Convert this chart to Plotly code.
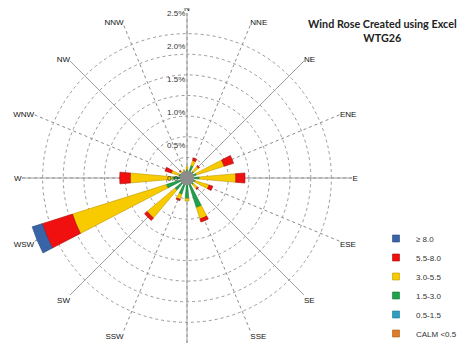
import plotly.graph_objects as go

# ---- data (percent frequency per direction, incremental per speed bin) ----
directions = ["N", "NNE", "NE", "ENE", "E", "ESE", "SE", "SSE",
              "S", "SSW", "SW", "WSW", "W", "WNW", "NW", "NNW"]
bin_labels = ["CALM <0.5", "0.5-1.5", "1.5-3.0", "3.0-5.5", "5.5-8.0", "\u2265 8.0"]
calm   = [0.02, 0.02, 0.02, 0.02, 0.03, 0.02, 0.02, 0.02, 0.02, 0.02, 0.02, 0.03, 0.03, 0.02, 0.02, 0.02]
s05_15 = [0.03, 0.03, 0.03, 0.03, 0.04, 0.03, 0.03, 0.05, 0.04, 0.04, 0.04, 0.05, 0.04, 0.03, 0.03, 0.03]
s15_30 = [0.08, 0.15, 0.08, 0.10, 0.12, 0.08, 0.08, 0.40, 0.25, 0.20, 0.18, 0.25, 0.15, 0.08, 0.06, 0.06]
s30_55 = [0.04, 0.08, 0.10, 0.44, 0.55, 0.22, 0.08, 0.18, 0.04, 0.08, 0.55, 1.49, 0.64, 0.12, 0.03, 0.02]
s55_80 = [0.00, 0.04, 0.02, 0.15, 0.14, 0.06, 0.02, 0.05, 0.00, 0.02, 0.05, 0.48, 0.16, 0.10, 0.01, 0.00]
s_ge80 = [0.00, 0.00, 0.00, 0.00, 0.00, 0.00, 0.00, 0.00, 0.00, 0.00, 0.00, 0.16, 0.00, 0.00, 0.00, 0.00]
series = [calm, s05_15, s15_30, s30_55, s55_80, s_ge80]
colors = ["#E07B28", "#2E9FC0", "#1FA34A", "#F8CB00", "#F01010", "#3A64A8"]
edges  = ["#A85A18", "#1F7490", "#147535", "#C09A00", "#A80C0C", "#26467A"]
radial_ticks = [0.0, 0.5, 1.0, 1.5, 2.0, 2.5]
r_max = 2.5
calm_disc = 0.11

step = 360 / len(directions)
theta = [i * step for i in range(len(directions))]

fig = go.Figure()
# invisible trace so the grid/label layer (polar) is drawn
fig.add_trace(go.Scatterpolar(r=[0], theta=[0], mode="markers",
                              marker=dict(size=0.1, opacity=0),
                              showlegend=False, subplot="polar", hoverinfo="skip"))
for vals, name, c, ec in zip(series, bin_labels, colors, edges):
    fig.add_trace(go.Barpolar(
        r=vals, theta=theta, name=name, width=10, legendgroup=name, showlegend=False,
        marker=dict(color=c, line=dict(color=ec, width=0.6)),
        subplot="polar2", hoverinfo="skip"))
# central grey disc on its own overlay
fig.add_trace(go.Barpolar(r=[calm_disc], theta=[0], width=360,
                          marker=dict(color="#8C8C8C", line=dict(width=0)),
                          showlegend=False, subplot="polar3", hoverinfo="skip"))
# small square legend keys
for name, c, ec in zip(bin_labels, colors, edges):
    fig.add_trace(go.Scatterpolar(
        r=[None], theta=[None], mode="markers", name=name, legendgroup=name,
        marker=dict(symbol="square", size=7, color=c, line=dict(color=ec, width=0.6)),
        subplot="polar3", hoverinfo="skip"))

W, H = 469, 347
OFF = 8  # default page body margin offsets the figure
cx, cy, R = 187 - OFF, 178 - OFF, 165
dom_x = [(cx - R) / W, (cx + R) / W]
dom_y = [1 - (cy + R) / H, 1 - (cy - R) / H]

grid_vals = [r_max * k / 8 for k in range(1, 9)]
hidden_radial = dict(range=[0, r_max], visible=False)
hidden_angular = dict(direction="clockwise", rotation=90, visible=False)

fig.update_layout(
    width=W, height=H,
    margin=dict(l=0, r=0, t=0, b=0, pad=0, autoexpand=False),
    paper_bgcolor="white",
    font=dict(family="Liberation Sans", size=8, color="#222"),
    showlegend=True,
    legend=dict(x=(376 - OFF) / W, y=1 - (224 - OFF) / H, xanchor="left", yanchor="top",
                traceorder="reversed", font=dict(size=8, color="#333"),
                bgcolor="rgba(0,0,0,0)"),
    polar=dict(
        domain=dict(x=dom_x, y=dom_y),
        bgcolor="white",
        radialaxis=dict(range=[0, r_max], tickvals=grid_vals, showticklabels=False,
                        showgrid=True, gridcolor="#9A9A9A", griddash="dot", gridwidth=1,
                        showline=False, ticks=""),
        angularaxis=dict(direction="clockwise", rotation=90,
                         tickvals=theta, ticktext=directions,
                         showgrid=True, gridcolor="#8A8A8A", griddash="dot", gridwidth=1,
                         showline=False, ticks="",
                         tickfont=dict(size=8, color="#111")),
    ),
    polar2=dict(
        domain=dict(x=dom_x, y=dom_y),
        bgcolor="rgba(0,0,0,0)",
        barmode="stack",
        radialaxis=dict(range=[0, r_max], tickvals=radial_ticks,
                        ticktext=[f"{v:.1f}%" for v in radial_ticks],
                        showgrid=False, showline=False, ticks="", angle=90,
                        tickangle=90, side="counterclockwise",
                        tickfont=dict(size=8, color="#333")),
        angularaxis=dict(direction="clockwise", rotation=90,
                         tickvals=theta[::2], showticklabels=False,
                         showgrid=True, gridcolor="#A0A0A0", gridwidth=1.3,
                         showline=False, ticks=""),
    ),
    polar3=dict(domain=dict(x=dom_x, y=dom_y), bgcolor="rgba(0,0,0,0)",
                radialaxis=hidden_radial, angularaxis=hidden_angular),
    annotations=[dict(text="<b>Wind Rose Created using Excel<br>WTG26</b>",
                      x=(382 - OFF) / W, y=1 - (30 - OFF) / H, xref="paper", yref="paper",
                      xanchor="center", yanchor="middle", showarrow=False,
                      font=dict(family="Lato", size=10.8, color="#222"))],
)

fig.write_html("out.html")
